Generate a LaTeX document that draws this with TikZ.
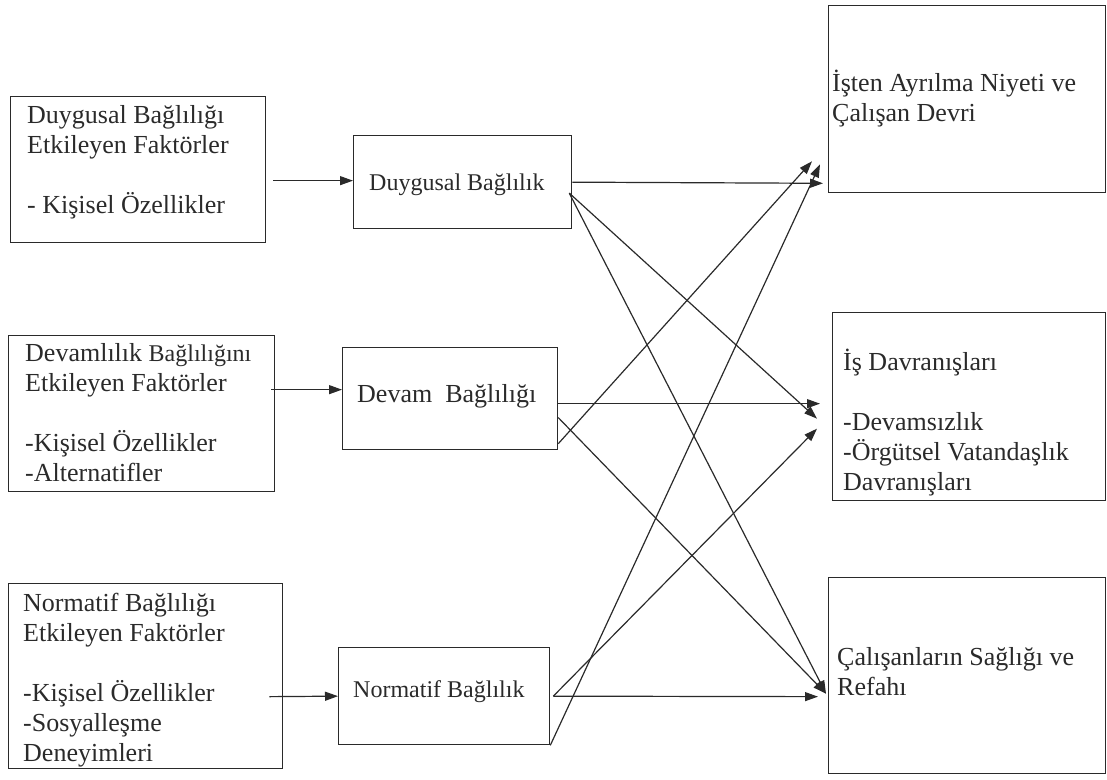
\documentclass[tikz,border=0pt]{standalone}
\usepackage{fontspec}
\setmainfont{Liberation Serif}
\usetikzlibrary{arrows.meta}
\newcommand{\stk}[1]{\vtop{\baselineskip=30pt\lineskiplimit=-20pt\lineskip=0pt #1}}
\definecolor{ink}{HTML}{2A2A2A}
\tikzset{
  box/.style={draw=ink, line width=1.3pt, rectangle, inner sep=0pt, anchor=north west},
  txt/.style={inner sep=0pt, anchor=base west, text=ink, font=\fontsize{26}{30}\selectfont},
  txts/.style={inner sep=0pt, anchor=base west, text=ink, font=\fontsize{24}{30}\selectfont},
  conn/.style={draw=ink, line width=1.2pt, -{Triangle[length=13pt,width=9pt]}}
}
\begin{document}
\begin{tikzpicture}[x=1pt,y=-1pt]
\useasboundingbox (0,0) rectangle (1107,779);
% left boxes
\node[box, minimum width=255pt, minimum height=146pt] (L1) at (10,96) {};
\node[txt] (L1t) at (27,123) {\stk{\hbox{Duygusal Bağlılığı}\hbox{Etkileyen Faktörler}\hbox{}\hbox{- Kişisel Özellikler}}};
\node[box, minimum width=266pt, minimum height=156pt] (L2) at (8,335) {};
\node[txt] (L2t) at (25,361) {\stk{\hbox{Devamlılık {\fontsize{24}{30}\selectfont Bağlılığını}}\hbox{Etkileyen Faktörler}\hbox{}\hbox{-Kişisel Özellikler}\hbox{-Alternatifler}}};
\node[box, minimum width=274pt, minimum height=185pt] (L3) at (8,583) {};
\node[txt] (L3t) at (23,611) {\stk{\hbox{Normatif Bağlılığı}\hbox{Etkileyen Faktörler}\hbox{}\hbox{-Kişisel Özellikler}\hbox{-Sosyalleşme}\hbox{Deneyimleri}}};
% middle boxes
\node[box, minimum width=218pt, minimum height=93pt] (M1) at (353,135) {};
\node[txts] (M1t) at (369,190) {Duygusal Bağlılık};
\node[box, minimum width=215pt, minimum height=102pt] (M2) at (342,347) {};
\node[txt] (M2t) at (357,402) {Devam\ \ Bağlılığı};
\node[box, minimum width=211pt, minimum height=97pt] (M3) at (338,647) {};
\node[txts] (M3t) at (353,697) {Normatif Bağlılık};
% right boxes
\node[box, minimum width=277pt, minimum height=187pt] (R1) at (828,5) {};
\node[txt] (R1t) at (832,91) {\stk{\hbox{İşten Ayrılma Niyeti ve}\hbox{Çalışan Devri}}};
\node[box, minimum width=273pt, minimum height=188pt] (R2) at (832,312) {};
\node[txt] (R2t) at (843,370) {\stk{\hbox{İş Davranışları}\hbox{}\hbox{-Devamsızlık}\hbox{-Örgütsel Vatandaşlık}\hbox{Davranışları}}};
\node[box, minimum width=277pt, minimum height=196pt] (R3) at (828,577) {};
\node[txt] (R3t) at (837,665) {\stk{\hbox{Çalışanların Sağlığı ve}\hbox{Refahı}}};
% inputs
\draw[conn] ([shift={(7pt,-11pt)}]L1.east) -- ([yshift=1.5pt]M1.west);
\draw[conn] ([shift={(-4pt,24pt)}]L2.east) -- ([yshift=9pt]M2.west);
\draw[conn] ([shift={(-14pt,-0.5pt)}]L3.east |- M3.west) -- (M3.west);
% from M1
\draw[conn] (M1.east) -- ([shift={(-5pt,10pt)}]R1.south west);
\draw[conn] ([shift={(-3pt,-11pt)}]M1.east) -- ([shift={(-15pt,-12pt)}]R2.west);
\draw[conn] ([shift={(-3pt,-11pt)}]M1.east) -- ([shift={(-2pt,-18pt)}]R3.west);
% from M2
\draw[conn] ([yshift=-5pt]M2.east) -- ([shift={(-12pt,3pt)}]R2.west);
\draw[conn] ([yshift=-19pt]M2.east) -- ([shift={(-2pt,-18pt)}]R3.west);
\draw[conn] ([yshift=-45pt]M2.east) -- ([shift={(-16pt,32pt)}]R1.south west);
% from M3
\draw[conn] ([xshift=3pt]M3.east) -- ([shift={(-10pt,-21pt)}]R3.west);
\draw[conn] ([xshift=3pt]M3.east) -- ([shift={(-15pt,-22pt)}]R2.west);
\draw[conn] (M3.south east) -- ([shift={(-8pt,29pt)}]R1.south west);
\end{tikzpicture}
\end{document}
